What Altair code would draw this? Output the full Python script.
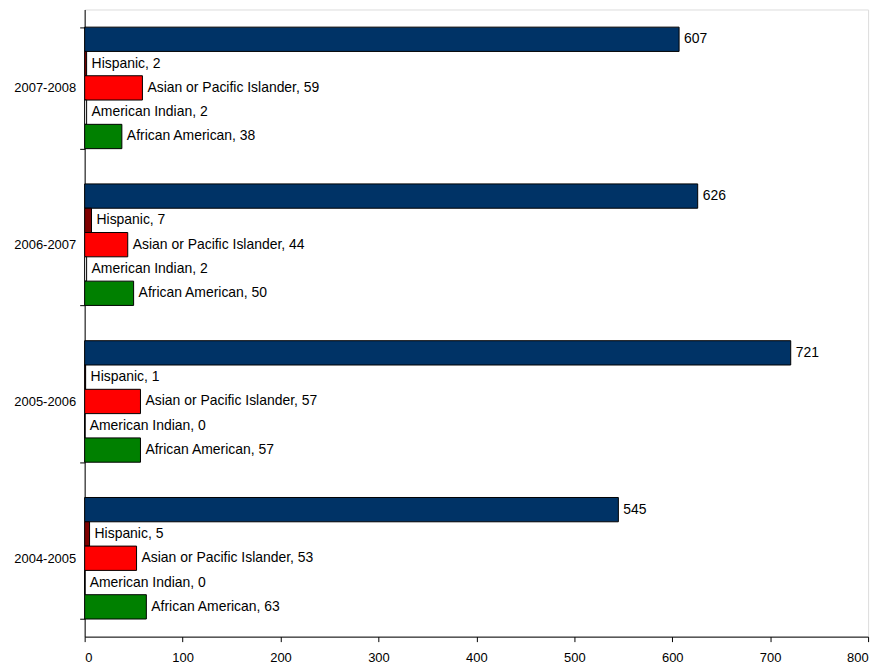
import altair as alt
import pandas as pd

years = ["2007-2008", "2006-2007", "2005-2006", "2004-2005"]
series = ["Total", "Hispanic", "Asian or Pacific Islander", "American Indian", "African American"]
values = {
    "2007-2008": [607, 2, 59, 2, 38],
    "2006-2007": [626, 7, 44, 2, 50],
    "2005-2006": [721, 1, 57, 0, 57],
    "2004-2005": [545, 5, 53, 0, 63],
}
colors = ["#003366", "#800000", "#FF0000", "#FFFFFF", "#008000"]
x_ticks = [0, 100, 200, 300, 400, 500, 600, 700, 800]

rows = []
for y in years:
    for s, v in zip(series, values[y]):
        label = str(v) if s == "Total" else f"{s}, {v}"
        rows.append({"year": y, "series": s, "value": v, "label": label})
df = pd.DataFrame(rows)

FONT = "Liberation Sans"

base = alt.Chart(df).encode(
    y=alt.Y(
        "year:N",
        sort=years,
        scale=alt.Scale(paddingInner=0.225, paddingOuter=0.1125),
        axis=alt.Axis(
            title=None,
            tickBand="extent",
            tickSize=5,
            labelPadding=4,
            labelFont=FONT,
            labelFontSize=13,
            labelColor="black",
            domainColor="black",
            tickColor="black",
        ),
    ),
    yOffset=alt.YOffset(
        "series:N",
        sort=series,
        scale=alt.Scale(paddingInner=0, paddingOuter=0),
    ),
    x=alt.X(
        "value:Q",
        scale=alt.Scale(domain=[0, 800], nice=False),
        axis=alt.Axis(
            title=None,
            values=x_ticks,
            grid=False,
            tickSize=5,
            labelPadding=10,
            labelFont=FONT,
            labelFontSize=13,
            labelColor="black",
            domainColor="black",
            tickColor="black",
        ),
    ),
)

bars = base.mark_bar(stroke="black", strokeWidth=1).encode(
    color=alt.Color("series:N", sort=series,
                    scale=alt.Scale(domain=series, range=colors), legend=None)
)

texts = base.mark_text(align="left", baseline="middle", dx=5, font=FONT,
                       fontSize=14, color="black").encode(text="label:N")

chart = (
    alt.layer(bars, texts)
    .properties(
        width=787,
        height=630,
        autosize=alt.AutoSizeParams(type="none"),
        padding={"left": 77, "top": 0, "right": 20, "bottom": 30},
    )
    .configure_view(stroke="#a0a0a0", strokeWidth=1)
    .configure(background="white")
)

chart.save("out.html", embed_options={"renderer": "svg", "actions": False})
